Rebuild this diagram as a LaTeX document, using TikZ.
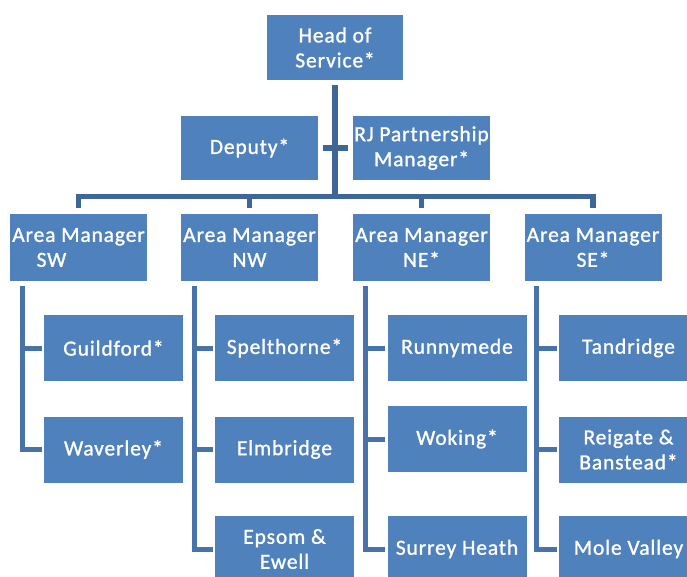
\documentclass[tikz,border=0pt]{standalone}
\usepackage{fontspec}
\setmainfont{Carlito}[LetterSpace=4, FakeBold=1.2]
\definecolor{boxblue}{HTML}{4F81BD}
\definecolor{linedark}{HTML}{3E6696}
\definecolor{linemid}{HTML}{4773AA}
\tikzset{
  orgbox/.style={fill=boxblue, draw=none, text=white, inner sep=0pt, align=center,
    minimum width=137pt, minimum height=66pt, font=\fontsize{21.5}{25}\selectfont},
  kidbox/.style={orgbox, minimum width=139pt},
  trunk/.style={draw=linedark, line width=5.5pt, line join=miter},
  spine/.style={draw=linemid, line width=5pt, line join=miter}
}
\begin{document}
\begin{tikzpicture}[x=1pt,y=-1pt]
\useasboundingbox (0,0) rectangle (687,576);
\clip (0,0) rectangle (687,576);
% top
\node[orgbox, minimum width=136pt, minimum height=65pt] (head) at (335,47.5) {Head of\\Service*};
\node[orgbox, minimum height=64pt] (deputy) at (249.5,148) {Deputy*};
\node[orgbox, minimum height=64pt] (rj) at (421.5,148) {RJ Partnership\\Manager*};
% area managers
\node[orgbox, minimum height=67pt] (sw) at (78.5,247.5) {Area Manager\\\hspace*{-54pt}SW};
\node[orgbox, minimum height=67pt] (nw) at (249.5,247.5) {Area Manager\\NW};
\node[orgbox, minimum height=67pt] (ne) at (421.5,247.5) {Area Manager\\NE*};
\node[orgbox, minimum height=67pt] (se) at (593,247.5) {Area Manager\\SE*};
% children
\node[kidbox] (guildford) at (113.5,348) {Guildford*};
\node[kidbox] (waverley) at (113.5,449.5) {Waverley*};
\node[kidbox] (spelthorne) at (284.5,348) {Spelthorne*};
\node[kidbox] (elmbridge) at (284.5,449.5) {Elmbridge};
\node[kidbox] (epsom) at (284.5,549) {Epsom \&\\Ewell};
\node[kidbox] (runnymede) at (457,348) {Runnymede};
\node[kidbox] (woking) at (457,439) {Woking*};
\node[kidbox] (surrey) at (457,549) {Surrey Heath};
\node[kidbox] (tandridge) at (628.5,348) {Tandridge};
\node[kidbox] (reigate) at (628.5,449.5) {Reigate \&\\Banstead*};
\node[kidbox] (mole) at (628.5,549) {Mole Valley};
% connectors
\coordinate (bus) at (335,196.5);
\draw[trunk, shorten <=5pt] (head.south) -- (head.south |- bus);
\draw[trunk, shorten <=5pt, shorten >=5pt] (deputy.east) -- (rj.west);
\draw[trunk, shorten <=6pt, shorten >=6pt] (sw.north) -- (sw.north |- bus) -- (se.north |- bus) -- (se.north);
\draw[trunk, shorten >=6pt] (nw.north |- bus) -- (nw.north);
\draw[trunk, shorten >=6pt] (ne.north |- bus) -- (ne.north);
% spines
\coordinate (swtop) at (22.5,286);
\coordinate (nwtop) at (194.5,286);
\coordinate (netop) at (365,286);
\coordinate (setop) at (536.5,286);
\draw[spine, shorten >=2pt] (swtop) |- (waverley.west);
\draw[spine, shorten >=2pt] (swtop |- guildford.west) -- (guildford.west);
\draw[spine, shorten >=2pt] (nwtop) |- (epsom.west);
\draw[spine, shorten >=2pt] (nwtop |- spelthorne.west) -- (spelthorne.west);
\draw[spine, shorten >=2pt] (nwtop |- elmbridge.west) -- (elmbridge.west);
\draw[spine, shorten >=2pt] (netop) |- (surrey.west);
\draw[spine, shorten >=2pt] (netop |- runnymede.west) -- (runnymede.west);
\draw[spine, shorten >=2pt] (netop |- woking.west) -- (woking.west);
\draw[spine, shorten >=2pt] (setop) |- (mole.west);
\draw[spine, shorten >=2pt] (setop |- tandridge.west) -- (tandridge.west);
\draw[spine, shorten >=2pt] (setop |- reigate.west) -- (reigate.west);
\end{tikzpicture}
\end{document}
